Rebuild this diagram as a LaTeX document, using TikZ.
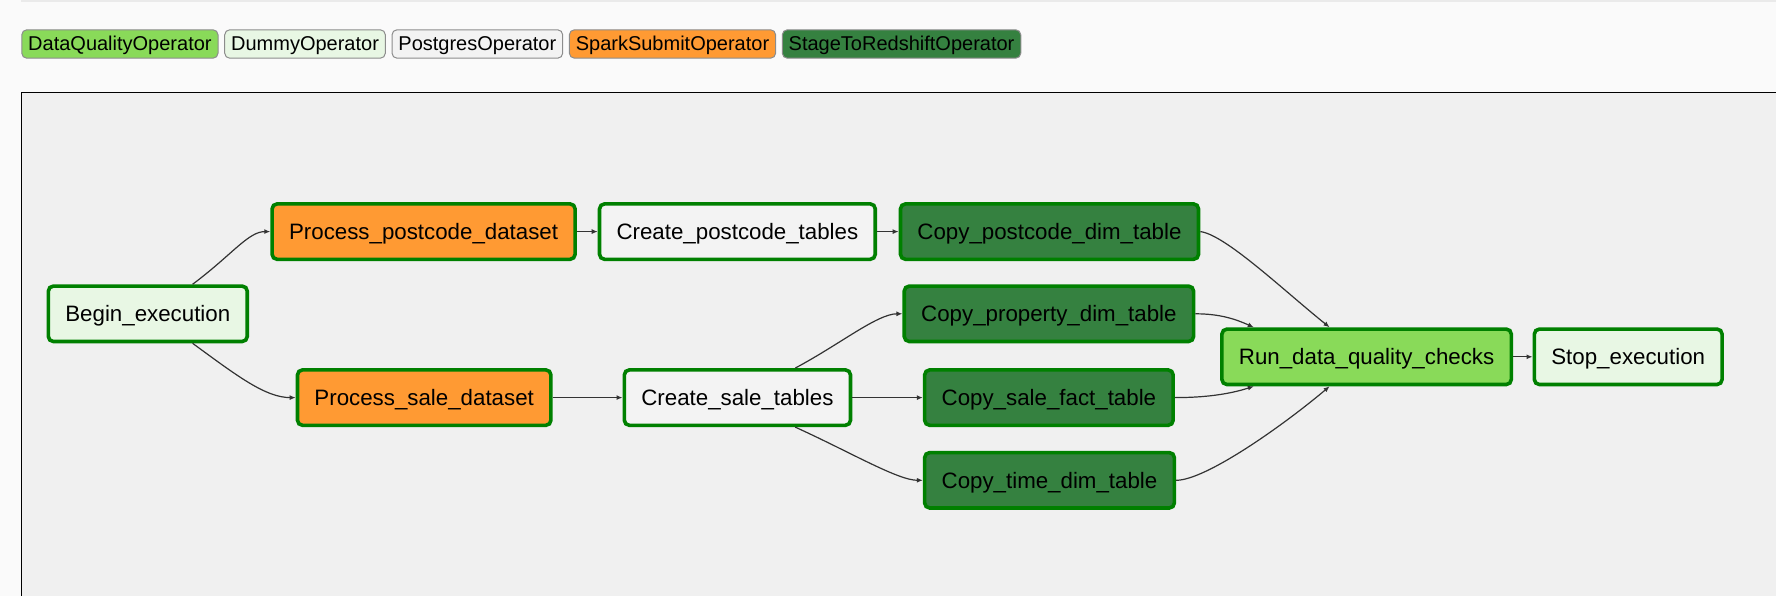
\documentclass[tikz,border=0pt]{standalone}
\usepackage{fontspec}
\setmainfont{Liberation Sans}
\usetikzlibrary{positioning,arrows.meta}
\definecolor{pagebg}{HTML}{FAFAFA}
\definecolor{topbar}{HTML}{EAEAEA}
\definecolor{framebg}{HTML}{F0F0F0}
\definecolor{dqcol}{HTML}{89DA59}
\definecolor{dummycol}{HTML}{E8F7E4}
\definecolor{pgcol}{HTML}{F3F3F3}
\definecolor{sparkcol}{HTML}{FF9A33}
\definecolor{redshiftcol}{HTML}{358140}
\definecolor{okgreen}{HTML}{008000}
\definecolor{edgecol}{HTML}{333333}
\definecolor{legborder}{HTML}{8C8C8C}
\begin{document}
\begin{tikzpicture}[x=1pt,y=-1pt,
  task/.style={draw=okgreen, line width=3.6pt, rounded corners=5pt, inner xsep=17pt,
    minimum height=55.4pt, font=\fontsize{22.3pt}{26pt}\selectfont,
    text height=20.2pt, text depth=4.7pt},
  legbox/.style={draw=legborder, line width=1pt, rounded corners=5pt, inner xsep=6.4pt,
    inner ysep=2pt, minimum height=28.4pt, font=\fontsize{20pt}{24pt}\selectfont,
    text height=18.1pt, text depth=4.2pt},
  edge/.style={draw=edgecol, line width=1.2pt, -{Latex[length=6pt,width=5pt]}}]
\useasboundingbox (0,0) rectangle (1776,596);
\clip (0,0) rectangle (1776,596);
\fill[pagebg] (0,0) rectangle (1776,596);
\fill[topbar] (21.3,0) rectangle (1776,2.5);
% legend
\node[legbox, fill=dqcol, anchor=west] (lgdq) at (21.3,44) {DataQualityOperator};
\node[legbox, fill=dummycol, right=5.7pt of lgdq] (lgdummy) {DummyOperator};
\node[legbox, fill=pgcol, right=5.7pt of lgdummy] (lgpg) {PostgresOperator};
\node[legbox, fill=sparkcol, right=5.7pt of lgpg] (lgspark) {SparkSubmitOperator};
\node[legbox, fill=redshiftcol, right=5.7pt of lgspark] (lgrs) {StageToRedshiftOperator};
% frame
\draw[black, line width=1pt, fill=framebg] (21.8,92.2) rectangle (1800,620);
% tasks
\node[task, fill=dummycol] (begin) at (147.8,313.8) {Begin\_execution};
\node[task, fill=sparkcol] (ppd) at (423.6,231.6) {Process\_postcode\_dataset};
\node[task, fill=pgcol] (cpt) at (737.4,231.6) {Create\_postcode\_tables};
\node[task, fill=redshiftcol] (cpd) at (1049.5,231.6) {Copy\_postcode\_dim\_table};
\node[task, fill=redshiftcol] (cprop) at (1048.9,313.8) {Copy\_property\_dim\_table};
\node[task, fill=sparkcol] (psd) at (424.2,397.6) {Process\_sale\_dataset};
\node[task, fill=pgcol] (cst) at (737.4,397.6) {Create\_sale\_tables};
\node[task, fill=redshiftcol] (csf) at (1048.9,397.6) {Copy\_sale\_fact\_table};
\node[task, fill=redshiftcol] (ctd) at (1049.5,480.3) {Copy\_time\_dim\_table};
\node[task, fill=dqcol] (rdq) at (1366.6,356.8) {Run\_data\_quality\_checks};
\node[task, fill=dummycol] (stop) at (1628.2,356.8) {Stop\_execution};
% edges
\draw[edge] ([xshift=44.8pt]begin.north) .. controls +(40,-30) and +(-22,0) .. (ppd.west);
\draw[edge] ([xshift=44.8pt]begin.south) .. controls +(45,33) and +(-30,0) .. (psd.west);
\draw[edge] (ppd.east) -- (cpt.west);
\draw[edge] (cpt.east) -- (cpd.west);
\draw[edge] (psd.east) -- (cst.west);
\draw[edge] ([xshift=57.8pt]cst.north) .. controls +(45,-24) and +(-25,0) .. (cprop.west);
\draw[edge] (cst.east) -- (csf.west);
\draw[edge] ([xshift=57.8pt]cst.south) .. controls +(55,25) and +(-25,0) .. (ctd.west);
\draw[edge] (cpd.east) .. controls +(25,3) and +(-45,-36) .. ([xshift=-37pt]rdq.north);
\draw[edge] (cprop.east) .. controls +(25,0) and +(-18,-8) .. ([xshift=-112.8pt]rdq.north);
\draw[edge] (csf.east) .. controls +(30,0) and +(-25,8) .. ([xshift=-112.8pt]rdq.south);
\draw[edge] (ctd.east) .. controls +(30,0) and +(-45,38) .. ([xshift=-37pt]rdq.south);
\draw[edge] (rdq.east) -- (stop.west);
\end{tikzpicture}
\end{document}
